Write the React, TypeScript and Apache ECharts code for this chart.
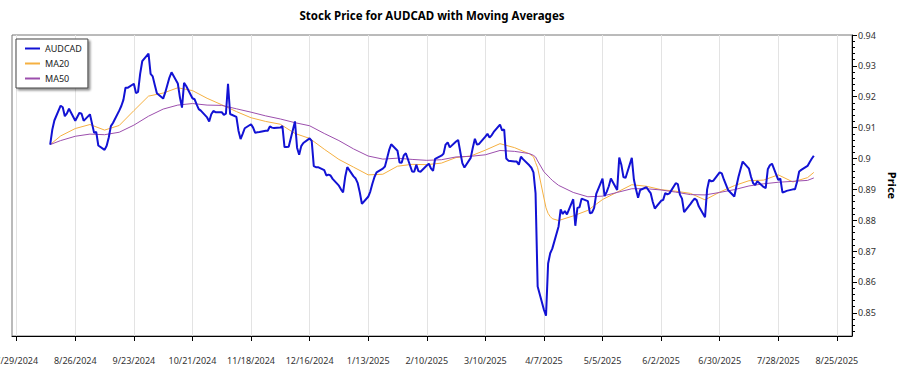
import React, { useEffect, useRef } from "react";
import * as echarts from "echarts";

const TITLE = "Stock Price for AUDCAD with Moving Averages";
const Y_NAME = "Price";
const START_DATE = "2024-08-14";
const END_DATE = "2025-08-14";

const X_TICKS = [
  "2024-07-29", "2024-08-26", "2024-09-23", "2024-10-21", "2024-11-18",
  "2024-12-16", "2025-01-13", "2025-02-10", "2025-03-10", "2025-04-07",
  "2025-05-05", "2025-06-02", "2025-06-30", "2025-07-28", "2025-08-25",
];
const Y_TICKS = [0.85, 0.86, 0.87, 0.88, 0.89, 0.9, 0.91, 0.92, 0.93, 0.94];

// one value per weekday (Mon-Fri) from START_DATE to END_DATE
const AUDCAD = [
  0.9045, 0.9093, 0.9123,
  0.9171, 0.9166, 0.9137, 0.9146, 0.9161,
  0.9122, 0.9135, 0.9148, 0.9145, 0.9122,
  0.9143, 0.9113, 0.9083, 0.9086, 0.9042,
  0.9028, 0.9041, 0.9068, 0.9105, 0.9115,
  0.9155, 0.9170, 0.9190, 0.9229, 0.9229,
  0.9242, 0.9212, 0.9216, 0.9274, 0.9315,
  0.9340, 0.9274, 0.9266, 0.9238, 0.9211,
  0.9194, 0.9214, 0.9238, 0.9262, 0.9279,
  0.9243, 0.9198, 0.9165, 0.9245, 0.9235,
  0.9195, 0.9192, 0.9175, 0.9160, 0.9155,
  0.9133, 0.9120, 0.9143, 0.9154, 0.9150,
  0.9150, 0.9141, 0.9145, 0.9242, 0.9144,
  0.9135, 0.9090, 0.9063, 0.9080, 0.9098,
  0.9111, 0.9100, 0.9083, 0.9085, 0.9086,
  0.9090, 0.9090, 0.9104, 0.9100, 0.9099,
  0.9100, 0.9105, 0.9037, 0.9037, 0.9038,
  0.9120, 0.9035, 0.9012, 0.9040, 0.9050,
  0.9065, 0.9057, 0.8975, 0.8972, 0.8972,
  0.8962, 0.8945, 0.8948, 0.8945, 0.8934,
  0.8912, 0.8900, 0.8890, 0.8940, 0.8972,
  0.8942, 0.8935, 0.8920, 0.8890, 0.8853,
  0.8876, 0.8893, 0.8918, 0.8940, 0.8955,
  0.8967, 0.8974, 0.9000, 0.9027, 0.9046,
  0.9025, 0.8987, 0.8986, 0.9010, 0.9017,
  0.8958, 0.8957, 0.8980, 0.8959, 0.8957,
  0.8977, 0.8983, 0.8968, 0.8960, 0.8999,
  0.9009, 0.9015, 0.9045, 0.9052, 0.9036,
  0.9055, 0.9060, 0.9022, 0.8985, 0.8971,
  0.9002, 0.9035, 0.9064, 0.9045, 0.9047,
  0.9071, 0.9080, 0.9068, 0.9075, 0.9086,
  0.9110, 0.9091, 0.9094, 0.9000, 0.8993,
  0.8990, 0.8990, 0.8980, 0.9006, 0.8998,
  0.8978, 0.8970, 0.8955, 0.8887, 0.8585,
  0.8510, 0.8491, 0.8660, 0.8693, 0.8708,
  0.8780, 0.8835, 0.8820, 0.8830, 0.8819,
  0.8868, 0.8782, 0.8840, 0.8842, 0.8870,
  0.8862, 0.8822, 0.8825, 0.8840, 0.8885,
  0.8935, 0.8878, 0.8892, 0.8910, 0.8935,
  0.8898, 0.9003, 0.8980, 0.8940, 0.8937,
  0.9002, 0.8932, 0.8900, 0.8873, 0.8898,
  0.8907, 0.8897, 0.8888, 0.8860, 0.8838,
  0.8863, 0.8866, 0.8888, 0.8884, 0.8887,
  0.8920, 0.8917, 0.8883, 0.8870, 0.8826,
  0.8852, 0.8862, 0.8870, 0.8865, 0.8845,
  0.8810, 0.8900, 0.8931, 0.8926, 0.8928,
  0.8955, 0.8952, 0.8932, 0.8915, 0.8898,
  0.8877, 0.8910, 0.8941, 0.8966, 0.8990,
  0.8967, 0.8940, 0.8920, 0.8914, 0.8926,
  0.8908, 0.8904, 0.8965, 0.8978, 0.8983,
  0.8931, 0.8935, 0.8890, 0.8892, 0.8895,
  0.8900, 0.8900, 0.8925, 0.8958, 0.8963,
  0.8976, 0.8988, 0.8999, 0.9009,
];

const MA_DATES = [
  "2024-08-14", "2024-08-19", "2024-08-26", "2024-09-02", "2024-09-09",
  "2024-09-16", "2024-09-23", "2024-09-30", "2024-10-07", "2024-10-14",
  "2024-10-21", "2024-10-28", "2024-11-04", "2024-11-11", "2024-11-18",
  "2024-11-25", "2024-12-02", "2024-12-09", "2024-12-16", "2024-12-23",
  "2024-12-30", "2025-01-06", "2025-01-13", "2025-01-20", "2025-01-27",
  "2025-02-03", "2025-02-10", "2025-02-17", "2025-02-24", "2025-03-03",
  "2025-03-10", "2025-03-17", "2025-03-24", "2025-03-31", "2025-04-02",
  "2025-04-03", "2025-04-04", "2025-04-07", "2025-04-08", "2025-04-09",
  "2025-04-10", "2025-04-11", "2025-04-14", "2025-04-21", "2025-04-28",
  "2025-05-05", "2025-05-12", "2025-05-19", "2025-05-26", "2025-06-02",
  "2025-06-09", "2025-06-16", "2025-06-23", "2025-06-30", "2025-07-07",
  "2025-07-14", "2025-07-21", "2025-07-28", "2025-08-04", "2025-08-11",
  "2025-08-14",
];
const MA20 = [
  0.9045, 0.9073, 0.9097, 0.9110, 0.9092,
  0.9107, 0.9155, 0.9202, 0.9212, 0.9229,
  0.9220, 0.9195, 0.9174, 0.9152, 0.9132,
  0.9120, 0.9111, 0.9081, 0.9065, 0.9030,
  0.8997, 0.8972, 0.8947, 0.8949, 0.8975,
  0.8981, 0.8980, 0.8985, 0.9003, 0.9008,
  0.9027, 0.9048, 0.9035, 0.9015, 0.9006,
  0.8987, 0.8970, 0.8872, 0.8840, 0.8822,
  0.8812, 0.8805, 0.8799, 0.8814, 0.8832,
  0.8867, 0.8891, 0.8915, 0.8910, 0.8899,
  0.8894, 0.8887, 0.8866, 0.8891, 0.8912,
  0.8928, 0.8930, 0.8947, 0.8924, 0.8938,
  0.8955,
];
const MA50 = [
  0.9045, 0.9058, 0.9072, 0.9079, 0.9077,
  0.9085, 0.9108, 0.9137, 0.9160, 0.9173,
  0.9178, 0.9173, 0.9172, 0.9161, 0.9150,
  0.9138, 0.9128, 0.9116, 0.9106, 0.9081,
  0.9058, 0.9031, 0.9008, 0.8998, 0.9001,
  0.8997, 0.8994, 0.8996, 0.9005, 0.9007,
  0.9012, 0.9026, 0.9023, 0.9016, 0.9010,
  0.9005, 0.8992, 0.8957, 0.8950, 0.8943,
  0.8936, 0.8929, 0.8913, 0.8890, 0.8876,
  0.8878, 0.8890, 0.8902, 0.8902, 0.8898,
  0.8891, 0.8883, 0.8882, 0.8890, 0.8899,
  0.8911, 0.8918, 0.8923, 0.8926, 0.8929,
  0.8937,
];

const DAY = 86400000;
const ts = (s: string) => {
  const [y, m, d] = s.split("-").map(Number);
  return Date.UTC(y, m - 1, d);
};
const fmtDate = (v: number) => {
  const d = new Date(v);
  return `${d.getUTCMonth() + 1}/${d.getUTCDate()}/${d.getUTCFullYear()}`;
};
const tradingDays = (() => {
  const out: number[] = [];
  for (let t = ts(START_DATE); t <= ts(END_DATE); t += DAY) {
    const wd = new Date(t).getUTCDay();
    if (wd !== 0 && wd !== 6) out.push(t);
  }
  return out;
})();

const FONT = "Noto Sans";

export default function App() {
  const ref = useRef<HTMLDivElement>(null);
  useEffect(() => {
    document.body.style.margin = "0";
    const chart = echarts.init(ref.current!, null, { renderer: "svg" });
    const span = ts(END_DATE) - ts(START_DATE);
    const xMin = ts(START_DATE) - span * 0.05;
    const xMax = ts(END_DATE) + span * 0.05;
    const yMin = 0.8425;
    const yMax = 0.94;
    const minorTicks: number[] = [];
    for (let i = 0; i * 0.002 + 0.844 <= yMax + 1e-9; i++) {
      minorTicks.push(Math.round((0.844 + i * 0.002) * 1000) / 1000);
    }
    chart.setOption({
      animation: false,
      textStyle: { fontFamily: FONT },
      graphic: [
        {
          type: "text",
          x: 432,
          y: 15,
          style: {
            text: TITLE,
            font: `bold 11.5px "${FONT}"`,
            fill: "#000",
            textAlign: "center",
            textVerticalAlign: "middle",
          },
        },
      ],
      legend: {
        data: ["AUDCAD", "MA20", "MA50"],
        orient: "vertical",
        left: 16,
        top: 39,
        padding: [5, 6, 5, 8],
        itemWidth: 15,
        itemHeight: 10,
        itemGap: 6,
        backgroundColor: "#fff",
        borderColor: "#444",
        borderWidth: 1,
        borderRadius: 0,
        shadowColor: "rgba(0,0,0,0.45)",
        shadowBlur: 2,
        shadowOffsetX: 2,
        shadowOffsetY: 2,
        itemStyle: { opacity: 0 },
        textStyle: { fontSize: 9, color: "#222", fontFamily: FONT },
      },
      grid: {
        left: 12,
        right: 48,
        top: 35,
        bottom: 39,
        show: true,
        borderColor: "#777",
        borderWidth: 1,
        containLabel: false,
        outerBoundsMode: "none",
      },
      xAxis: {
        type: "value",
        min: xMin,
        max: xMax,
        axisLine: { show: true, lineStyle: { color: "#000", width: 1 } },
        axisTick: {
          show: true,
          length: 5,
          customValues: X_TICKS.map(ts),
          lineStyle: { color: "#000" },
        },
        axisLabel: {
          customValues: X_TICKS.map(ts),
          formatter: (v: number) => fmtDate(v),
          fontSize: 9,
          color: "#333",
          margin: 20,
        },
        splitLine: { show: true, lineStyle: { color: "#e3e3e3", width: 1 } },
      },
      yAxis: [
        {
          type: "value",
          position: "right",
          min: yMin,
          max: yMax,
          name: Y_NAME,
          nameLocation: "middle",
          nameRotate: -90,
          nameGap: 30,
          nameTextStyle: { fontWeight: "bold", fontSize: 11, color: "#000" },
          axisLine: { show: true, lineStyle: { color: "#000", width: 1 } },
          axisTick: {
            show: true,
            length: 5,
            customValues: Y_TICKS,
            lineStyle: { color: "#000" },
          },
          axisLabel: {
            customValues: Y_TICKS,
            formatter: (v: number) => String(Math.round(v * 100) / 100),
            fontSize: 9,
            color: "#333",
            margin: 6,
          },
          splitLine: { show: false },
        },
        {
          type: "value",
          position: "right",
          min: yMin,
          max: yMax,
          axisLine: { show: false },
          axisTick: {
            show: true,
            length: 3,
            customValues: minorTicks,
            lineStyle: { color: "#000" },
          },
          axisLabel: { show: false },
          splitLine: { show: false },
        },
      ],
      series: [
        {
          name: "AUDCAD",
          type: "line",
          symbol: "none",
          showSymbol: false,
          data: tradingDays.map((t, i) => [t, AUDCAD[i]]),
          lineStyle: { color: "#1212d4", width: 2 },
          itemStyle: { color: "#1212d4" },
          z: 3,
        },
        {
          name: "MA20",
          type: "line",
          symbol: "none",
          showSymbol: false,
          data: MA_DATES.map((d, i) => [ts(d), MA20[i]]),
          lineStyle: { color: "#f5b041", width: 1 },
          itemStyle: { color: "#f5b041" },
          z: 2,
        },
        {
          name: "MA50",
          type: "line",
          symbol: "none",
          showSymbol: false,
          data: MA_DATES.map((d, i) => [ts(d), MA50[i]]),
          lineStyle: { color: "#9c4fad", width: 1 },
          itemStyle: { color: "#9c4fad" },
          z: 2,
        },
      ],
    });
    return () => chart.dispose();
  }, []);
  return (
    <div
      ref={ref}
      style={{ position: "absolute", left: 0, top: 0, width: 900, height: 375 }}
    />
  );
}
